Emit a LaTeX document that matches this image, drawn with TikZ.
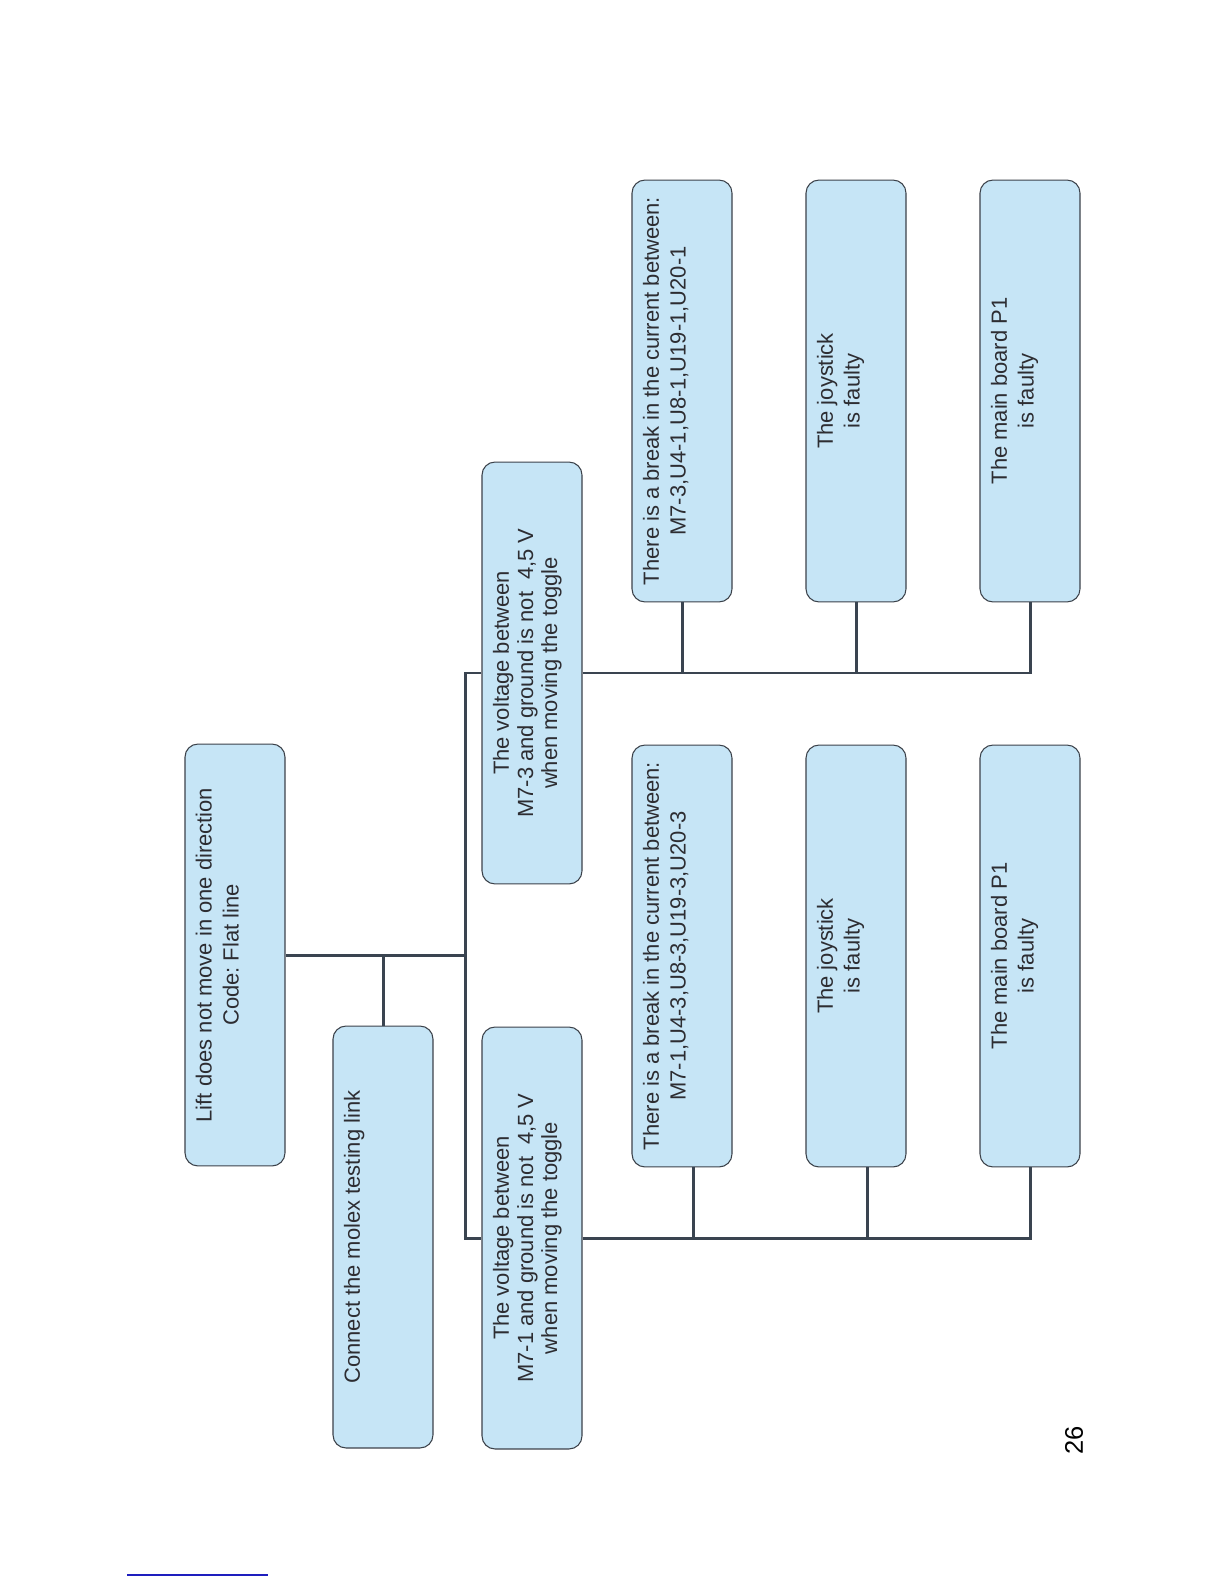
\documentclass[tikz,border=0pt]{standalone}
\usepackage{fontspec}
\setmainfont{Liberation Sans}
\usetikzlibrary{calc}
\frenchspacing

\definecolor{boxfill}{RGB}{198,229,246}
\definecolor{boxline}{RGB}{60,66,74}
\definecolor{wirecol}{RGB}{58,68,80}
\definecolor{textgray}{RGB}{45,45,50}
\definecolor{rulecol}{RGB}{30,30,190}

\begin{document}
\begin{tikzpicture}[
  x=0.02cm, y=-0.02cm,
  box/.style  = {draw=boxline, fill=boxfill, line width=0.6pt, rounded corners=0.26cm,
                 rotate=90, % page is turned: text reads bottom to top
                 minimum width=8.44cm, minimum height=2cm, inner sep=0pt},
  txt/.style  = {rotate=90, anchor=north, align=center, inner sep=0.22cm,
                 text=textgray, font=\fontsize{12.5}{15.3}\selectfont},
  txtv/.style = {txt, font=\fontsize{12.5}{13.8}\selectfont},
  wire/.style = {draw=wirecol, line width=1.7pt},
  pgnum/.style = {rotate=90, text=black, inner sep=0pt, font=\fontsize{14.5}{16}\selectfont}
]

  \fill[white] (0,0) rectangle (1224,1584);

  % Fault
  \node[box] (lift) at (235,955) {};
  \node[txt] (lift-t) at (lift.north) {Lift does not move in one direction\\Code: Flat line};

  % Test link
  \node[box] (molex) at (383,1237) {};
  \node[txt] (molex-t) at (molex.north) {Connect the molex testing link};

  % Voltage checks
  \node[box] (v73) at (532,673) {};
  \node[txtv] (v73-t) at (v73.north) {The voltage between\\M7-3 and ground is not\ \ 4,5 V\\when moving the toggle};

  \node[box] (v71) at (532,1238) {};
  \node[txtv] (v71-t) at (v71.north) {The voltage between\\M7-1 and ground is not\ \ 4,5 V\\when moving the toggle};

  % Causes, M7-3
  \node[box] (brk3) at (682,391) {};
  \node[txt] (brk3-t) at (brk3.north) {There is a break in the current between:\\M7-3,U4-1,U8-1,U19-1,U20-1};

  \node[box] (joy3) at (856,391) {};
  \node[txt] (joy3-t) at (joy3.north) {The joystick\\is faulty};

  \node[box] (mb3) at (1030,391) {};
  \node[txt] (mb3-t) at (mb3.north) {The main board P1\\is faulty};

  % Causes, M7-1
  \node[box] (brk1) at (682,956) {};
  \node[txt] (brk1-t) at (brk1.north) {There is a break in the current between:\\M7-1,U4-3,U8-3,U19-3,U20-3};

  \node[box] (joy1) at (856,956) {};
  \node[txt] (joy1-t) at (joy1.north) {The joystick\\is faulty};

  \node[box] (mb1) at (1030,956) {};
  \node[txt] (mb1-t) at (mb1.north) {The main board P1\\is faulty};

  % fault -> trunk, with the test link hanging off it
  \coordinate (trunk) at ($(v73.north)+(-16,0)$);
  \draw[wire] (lift.south) -- (lift.south -| trunk);
  \draw[wire] (molex.east) -- (molex.east |- lift.south);

  % trunk feeds both voltage checks
  \draw[wire] (v73.north) -- (trunk) |- (v71.north);

  % M7-3 branch
  \draw[wire] (v73.south) -| (mb3.west);
  \draw[wire] (brk3.west) -- (brk3.west |- v73.south);
  \draw[wire] (joy3.west) -- (joy3.west |- v73.south);

  % M7-1 branch (stubs sit a little right of centre)
  \coordinate (brk1in) at ($(brk1.west)+(11,0)$);
  \coordinate (joy1in) at ($(joy1.west)+(11,0)$);
  \draw[wire] (v71.south) -| (mb1.west);
  \draw[wire] (brk1in) -- (brk1in |- v71.south);
  \draw[wire] (joy1in) -- (joy1in |- v71.south);

  % page number and rule
  \node[pgnum] (pagenum) at (1074,1440) {26};
  \draw[rulecol, line width=0.8pt] (127,1575) -- (268,1575);

\end{tikzpicture}
\end{document}
